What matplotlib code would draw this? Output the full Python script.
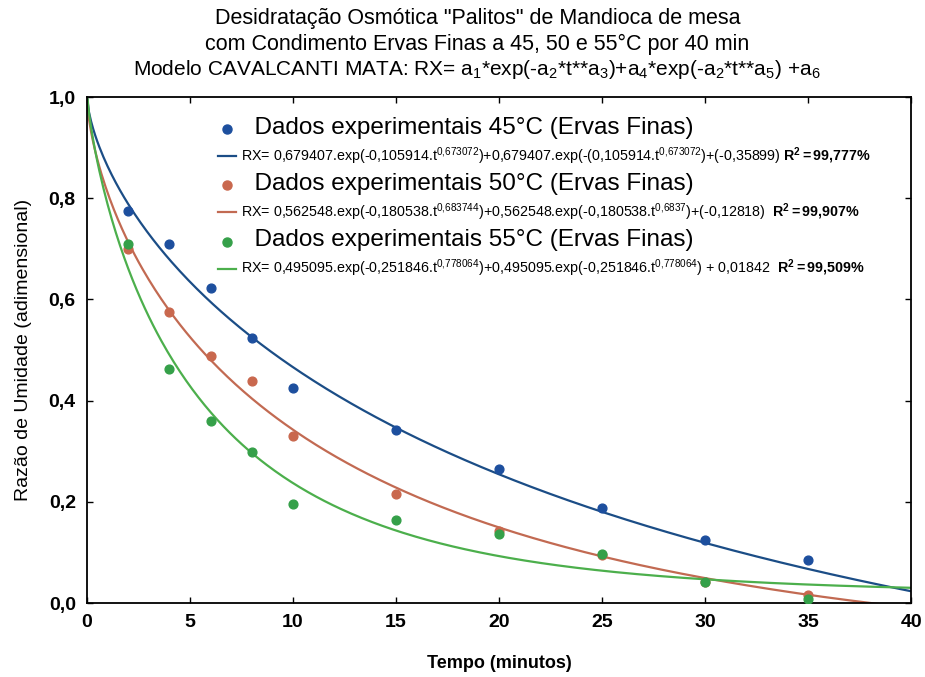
import matplotlib
matplotlib.use("Agg")
import matplotlib.pyplot as plt
from matplotlib.lines import Line2D
from matplotlib.ticker import FuncFormatter
import numpy as np

plt.rcParams['font.family'] = ['Liberation Sans', 'DejaVu Sans']
plt.rcParams['mathtext.fontset'] = 'custom'
plt.rcParams['mathtext.rm'] = 'Liberation Sans'
plt.rcParams['mathtext.it'] = 'Liberation Sans'
plt.rcParams['mathtext.bf'] = 'Liberation Sans:bold'

# experimental points (time in minutes, moisture ratio)
t_exp = [2, 4, 6, 8, 10, 15, 20, 25, 30, 35]
rx_45 = [0.774, 0.709, 0.623, 0.524, 0.425, 0.342, 0.264, 0.187, 0.125, 0.085]
rx_50 = [0.700, 0.575, 0.489, 0.439, 0.331, 0.216, 0.143, 0.095, 0.042, 0.016]
rx_55 = [0.709, 0.462, 0.359, 0.298, 0.196, 0.165, 0.137, 0.097, 0.042, 0.008]

# fitted parameters of the Cavalcanti Mata model (a1..a6)
params_45 = [0.679407, 0.105914, 0.673072, 0.679407, 0.673072, -0.35899]
params_50 = [0.562548, 0.180538, 0.683744, 0.562548, 0.6837, -0.12818]
params_55 = [0.495095, 0.251846, 0.778064, 0.495095, 0.778064, 0.01842]

labels_pts = ["Dados experimentais 45°C (Ervas Finas)",
              "Dados experimentais 50°C (Ervas Finas)",
              "Dados experimentais 55°C (Ervas Finas)"]
labels_fit = [
    r"RX= 0,679407.exp(-0,105914.t$^{0{,}673072}$)+0,679407.exp(-(0,105914.t$^{0{,}673072}$)+(-0,35899) $\mathbf{R^2{=}99{,}777\%}$",
    r"RX= 0,562548.exp(-0,180538.t$^{0{,}683744}$)+0,562548.exp(-0,180538.t$^{0{,}6837}$)+(-0,12818)  $\mathbf{R^2{=}99{,}907\%}$",
    r"RX= 0,495095.exp(-0,251846.t$^{0{,}778064}$)+0,495095.exp(-0,251846.t$^{0{,}778064}$) + 0,01842  $\mathbf{R^2{=}99{,}509\%}$",
]

pt_colors = ["#1d4f9e", "#c9684e", "#35a049"]
ln_colors = ["#1b4d86", "#c26a52", "#4caf4c"]


def cavalcanti_mata(t, a):
    return a[0] * np.exp(-a[1] * t ** a[2]) + a[3] * np.exp(-a[1] * t ** a[4]) + a[5]


fig = plt.figure(figsize=(9.25, 6.77), dpi=100)
ax = fig.add_axes([0.094, 0.1093, 0.891, 0.7474])

t_fit = np.linspace(0, 40, 400)
handles = []
for rx, params, pc, lc, lp, lf in zip([rx_45, rx_50, rx_55],
                                      [params_45, params_50, params_55],
                                      pt_colors, ln_colors, labels_pts, labels_fit):
    ax.plot(t_fit, cavalcanti_mata(t_fit, params), color=lc, lw=1.6, zorder=2)
    ax.scatter(t_exp, rx, s=40, color=pc, zorder=3)
    handles.append(Line2D([], [], ls="none", marker="o", ms=6.5, color=pc, label="  " + lp))
    handles.append(Line2D([], [], color=lc, lw=1.6, label=lf))

ax.set_xlim(0, 40)
ax.set_ylim(0, 1.0)
ax.set_xticks(np.arange(0, 41, 5))
ax.set_yticks(np.arange(0, 1.01, 0.2))
ax.yaxis.set_major_formatter(FuncFormatter(lambda v, p: f"{v:.1f}".replace(".", ",")))
ax.tick_params(direction="in", top=True, right=True, length=4, width=1, pad=8,
               labelsize=14)
for lab in ax.get_xticklabels() + ax.get_yticklabels():
    lab.set_fontweight("bold")
for sp in ax.spines.values():
    sp.set_linewidth(1.3)

ax.set_xlabel("Tempo (minutos)", fontsize=13, fontweight="bold", labelpad=17)
ax.set_ylabel("Razão de Umidade (adimensional)", fontsize=14, labelpad=12)

leg = ax.legend(handles=handles, loc="upper left", bbox_to_anchor=(0.152, 0.972),
                frameon=False, handlelength=1.3, handletextpad=0.4,
                labelspacing=0.46, borderaxespad=0)
for i, txt in enumerate(leg.get_texts()):
    txt.set_fontsize(17.5 if i % 2 == 0 else 10.3)

fig.text(0.516, 0.973, "Desidratação Osmótica \"Palitos\" de Mandioca de mesa",
         ha="center", va="center", fontsize=15.5)
fig.text(0.516, 0.935, "com Condimento Ervas Finas a 45, 50 e 55°C por 40 min",
         ha="center", va="center", fontsize=15.5)
fig.text(0.516, 0.897, r"Modelo CAVALCANTI MATA: RX= a$_1$*exp(-a$_2$*t**a$_3$)+a$_4$*exp(-a$_2$*t**a$_5$) +a$_6$",
         ha="center", va="center", fontsize=15)

fig.savefig("out.png", dpi=100)
